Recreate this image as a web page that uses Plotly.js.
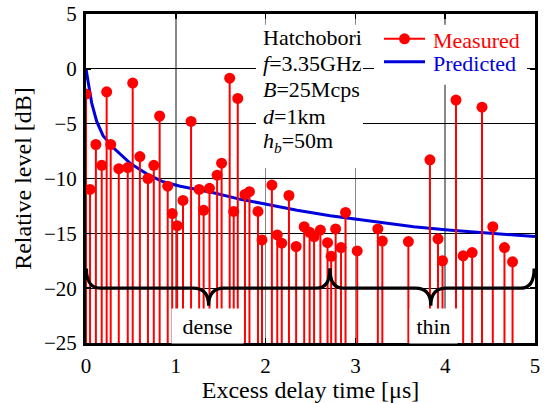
<!DOCTYPE html>
<html>
<head>
<meta charset="utf-8">
<script src="https://cdn.plot.ly/plotly-3.0.1.min.js"></script>
<style>html,body{margin:0;padding:0;background:#fff}#chart{width:546px;height:403px}</style>
</head>
<body>
<div id="chart"></div>
<script>
// Measured delay profile (excess delay in µs, relative level in dB)
const delay = [0.00,0.045,0.11,0.175,0.23,0.275,0.365,0.465,0.52,0.60,0.69,0.755,0.82,0.91,0.96,1.015,1.08,1.17,1.26,1.31,1.375,1.46,1.51,1.60,1.645,1.69,1.77,1.82,1.915,1.96,2.07,2.13,2.18,2.26,2.34,2.43,2.49,2.54,2.61,2.69,2.73,2.78,2.84,2.89,3.02,3.25,3.30,3.59,3.83,3.92,3.97,4.12,4.20,4.30,4.41,4.53,4.66,4.75];
const measured = [-2.3,-11.0,-6.9,-8.8,-2.1,-6.9,-9.1,-9.0,-1.3,-8.0,-10.0,-8.8,-4.3,-10.7,-13.2,-14.3,-12.0,-4.8,-11.0,-12.9,-10.9,-9.7,-8.6,-0.85,-13.0,-2.7,-11.45,-11.2,-13.0,-15.6,-10.6,-15.15,-15.9,-11.55,-16.2,-14.4,-14.9,-15.3,-14.7,-15.85,-17.1,-14.6,-16.3,-13.1,-16.6,-14.6,-15.7,-15.75,-8.3,-15.5,-17.5,-2.85,-17.05,-16.75,-3.5,-14.4,-16.3,-17.6];
// Predicted curve
const predX = [0,0.005,0.026,0.063,0.119,0.19,0.305,0.49,0.68,0.86,1.05,1.42,1.72,1.98,2.35,2.72,3.10,3.39,3.65,4.03,4.40,4.77,5.0];
const predY = [0,-0.3,-1.3,-3.1,-4.8,-6.1,-7.2,-8.6,-9.6,-10.3,-10.7,-11.3,-11.9,-12.3,-12.9,-13.4,-13.8,-14.1,-14.4,-14.7,-14.9,-15.15,-15.3];
// Axis settings
const xRange = [0, 5];
const yRange = [-25, 5];
// Text
const infoLines = ['Hatchobori', '<i>f</i>=3.35GHz', '<i>B</i>=25Mcps', '<i>d</i>=1km', '<i>h</i><sub><i>b</i></sub>=50m'];
const legendNames = ['Measured', 'Predicted'];
const braceLabels = ['dense', 'thin'];

const FONT = 'Liberation Serif, Times New Roman, serif';
const RED = '#ff0000';
const BLUE = '#0000dd';

// Build stem lines from the data
const stemX = [], stemY = [];
delay.forEach((d, i) => { stemX.push(d, d, null); stemY.push(yRange[0], measured[i], null); });

const traces = [
  {x: predX, y: predY, mode: 'lines', line: {color: BLUE, width: 3}, name: legendNames[1], showlegend: false, hoverinfo: 'skip'},
  {x: stemX, y: stemY, mode: 'lines', line: {color: RED, width: 2}, showlegend: false, hoverinfo: 'skip'},
  {x: delay, y: measured, mode: 'markers', marker: {color: RED, size: 11}, name: legendNames[0], showlegend: false, hoverinfo: 'skip'}
];

// pixel helpers for decorations (plot area 86..535 x, 14..343 y)
const px2x = p => (p - 86) / 89.8;
const px2y = p => (69 - p) / 10.96;

function brace(a, b, m) {
  const top = -18.2, mid = -20, tip = -21.6, ce = 0.15, cm = 0.17;
  return `M ${a},${top} Q ${a},${mid} ${a+ce},${mid} L ${m-cm},${mid} Q ${m},${mid} ${m},${tip} Q ${m},${mid} ${m+cm},${mid} L ${b-ce},${mid} Q ${b},${mid} ${b},${top}`;
}

const shapes = [
  {type: 'rect', xref: 'x', yref: 'y', x0: px2x(256), x1: px2x(363), y0: px2y(168), y1: px2y(25), fillcolor: '#fff', line: {width: 0}, layer: 'above'},
  {type: 'rect', xref: 'x', yref: 'y', x0: px2x(374), x1: px2x(527), y0: px2y(85), y1: px2y(25), fillcolor: '#fff', line: {width: 0}, layer: 'above'},
  {type: 'line', xref: 'x', yref: 'y', x0: px2x(384), x1: px2x(425), y0: px2y(39), y1: px2y(39), line: {color: RED, width: 2}, layer: 'above'},
  {type: 'circle', xref: 'x', yref: 'y', x0: px2x(399), x1: px2x(410), y0: px2y(44.5), y1: px2y(33.5), fillcolor: RED, line: {width: 0}, layer: 'above'},
  {type: 'line', xref: 'x', yref: 'y', x0: px2x(384), x1: px2x(425), y0: px2y(62), y1: px2y(62), line: {color: BLUE, width: 3}, layer: 'above'},
  {type: 'path', xref: 'x', yref: 'y', path: brace(0.005, 2.716, 1.365), line: {color: '#000', width: 3.2}, layer: 'above'},
  {type: 'path', xref: 'x', yref: 'y', path: brace(2.716, 4.99, 3.84), line: {color: '#000', width: 3.2}, layer: 'above'}
];

const infoY = [38, 64, 90, 116.5, 142];
const annotations = infoLines.map((t, i) => ({
  text: t, xref: 'x', yref: 'y', x: px2x(261), y: px2y(infoY[i]), xanchor: 'left', yanchor: 'middle',
  showarrow: false, font: {family: FONT, size: 22, color: '#000'}
}));
annotations.push(
  {text: legendNames[0], xref: 'x', yref: 'y', x: px2x(431), y: px2y(40.5), xanchor: 'left', yanchor: 'middle', showarrow: false, font: {family: FONT, size: 22, color: RED}},
  {text: legendNames[1], xref: 'x', yref: 'y', x: px2x(431), y: px2y(64), xanchor: 'left', yanchor: 'middle', showarrow: false, font: {family: FONT, size: 22, color: BLUE}},
  {text: braceLabels[0], xref: 'x', yref: 'y', x: px2x(207.5), y: px2y(326), xanchor: 'center', yanchor: 'middle', showarrow: false, bgcolor: '#fff', width: 67, height: 30, borderpad: 2, font: {family: FONT, size: 22, color: '#000'}},
  {text: braceLabels[1], xref: 'x', yref: 'y', x: px2x(433.5), y: px2y(326), xanchor: 'center', yanchor: 'middle', showarrow: false, bgcolor: '#fff', width: 43, height: 30, borderpad: 2, font: {family: FONT, size: 22, color: '#000'}}
);

const axisCommon = {
  showline: true, linecolor: '#000', linewidth: 3, mirror: 'ticks',
  ticks: 'inside', ticklen: 5, tickwidth: 1.5, tickcolor: '#000',
  tickfont: {family: FONT, size: 21, color: '#000'}, zeroline: false, showgrid: true
};

const layout = {
  width: 546, height: 403,
  margin: {l: 86, r: 11, t: 14, b: 60},
  paper_bgcolor: '#fff', plot_bgcolor: '#fff',
  showlegend: false,
  xaxis: Object.assign({}, axisCommon, {range: xRange, dtick: 1, tick0: 0, gridcolor: '#888', gridwidth: 1.5, ticklabelstandoff: 2,
    title: {text: 'Excess delay time [μs]', font: {family: FONT, size: 24, color: '#000'}, standoff: 0}}),
  yaxis: Object.assign({}, axisCommon, {range: yRange, dtick: 5, tick0: 0, gridcolor: '#000', gridwidth: 1.2, ticklabelstandoff: 2,
    title: {text: 'Relative level [dB]', font: {family: FONT, size: 24, color: '#000'}, standoff: 6}}),
  shapes: shapes,
  annotations: annotations
};

Plotly.newPlot('chart', traces, layout, {staticPlot: true, displayModeBar: false});
</script>
</body>
</html>
